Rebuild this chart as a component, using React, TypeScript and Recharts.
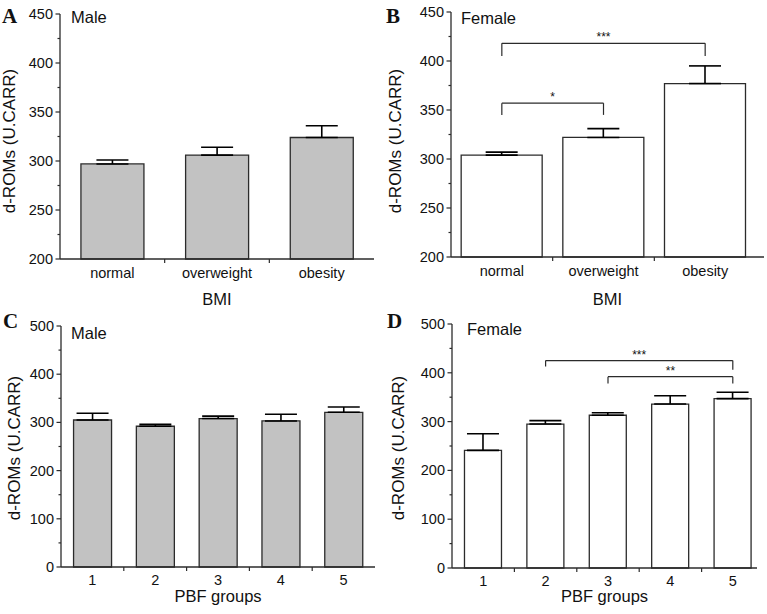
import React from "react";
import { Bar, BarChart, ErrorBar, ReferenceLine, XAxis, YAxis } from "recharts";

// BMI panels (A, B)
const bmiCats = ["normal", "overweight", "obesity"];
const maleBmiMean = [297, 306, 324];
const maleBmiErr = [4, 8, 12];
const femaleBmiMean = [304, 322, 377];
const femaleBmiErr = [3, 9, 18];
const bmiTicks = [200, 225, 250, 275, 300, 325, 350, 375, 400, 425, 450];

// PBF panels (C, D)
const pbfCats = ["1", "2", "3", "4", "5"];
const malePbfMean = [305, 292, 308, 303, 321];
const malePbfErr = [14, 4, 5, 14, 11];
const femalePbfMean = [241, 295, 313, 336, 347];
const femalePbfErr = [34, 7, 5, 17, 13];
const pbfTicks = [0, 50, 100, 150, 200, 250, 300, 350, 400, 450, 500];

// significance brackets: [from, to, bar y, left end y, right end y, stars]
const femaleBmiSig: [string, string, number, number, number, string][] = [
  ["normal", "obesity", 418, 405, 405, "***"],
  ["normal", "overweight", 357, 345, 345, "*"],
];
const femalePbfSig: [string, string, number, number, number, string][] = [
  ["2", "5", 425, 413, 406, "***"],
  ["3", "5", 392, 378, 378, "**"],
];

const SANS = "'Liberation Sans', Arial, Helvetica, sans-serif";
const SERIF = "'Liberation Serif', 'Times New Roman', serif";
const AXIS = "#2b2b2b";
const TEXT = "#111";

interface PanelProps {
  left: number;
  top: number;
  width: number;
  height: number;
  margin: { top: number; right: number; bottom: number; left: number };
  yWidth: number;
  xHeight: number;
  xPad: { left: number; right: number };
  cats: string[];
  mean: number[];
  err: number[];
  fill: string;
  gap: string;
  domain: [number, number];
  ticks: number[];
  major: number;
  catDy: number;
  xLabel: string;
  xLabelOffset: number;
  sig?: [string, string, number, number, number, string][];
}

function Panel(p: PanelProps) {
  const data = p.cats.map((name, i) => ({
    name,
    value: p.mean[i],
    err: [0, p.err[i]],
  }));
  const plotW = p.width - p.margin.left - p.margin.right - p.yWidth;
  const band = (plotW - p.xPad.left - p.xPad.right) / p.cats.length;

  const yTick = (props: any) => {
    const { x, y, payload } = props;
    const isMajor = payload.value % p.major === 0;
    return (
      <g>
        <line x1={x} x2={x - (isMajor ? 4.5 : 2.5)} y1={y} y2={y} stroke={AXIS} strokeWidth={1.2} />
        {isMajor ? (
          <text x={x - 7} y={y} textAnchor="end" dominantBaseline="central" fontSize={14.5} fill={TEXT} fontFamily={SANS}>
            {payload.value}
          </text>
        ) : null}
      </g>
    );
  };

  const xTick = (props: any) => {
    const { x, y, payload, index } = props;
    return (
      <g>
        {index < p.cats.length - 1 ? (
          <line x1={x + band / 2} x2={x + band / 2} y1={y} y2={y + 4} stroke={AXIS} strokeWidth={1.2} />
        ) : null}
        <text x={x} y={y + p.catDy} textAnchor="middle" dominantBaseline="central" fontSize={14.5} fill={TEXT} fontFamily={SANS}>
          {payload.value}
        </text>
      </g>
    );
  };

  return (
    <div style={{ position: "absolute", left: p.left, top: p.top }}>
      <BarChart
        width={p.width}
        height={p.height}
        data={data}
        margin={p.margin}
        barCategoryGap={p.gap}
      >
        <XAxis
          dataKey="name"
          height={p.xHeight}
          padding={p.xPad}
          interval={0}
          tickLine={false}
          tickSize={0}
          tickMargin={0}
          tick={xTick}
          axisLine={{ stroke: AXIS, strokeWidth: 1.3 }}
          label={{
            value: p.xLabel,
            position: "insideTop",
            offset: p.xLabelOffset,
            fontSize: 16.5,
            fill: TEXT,
            fontFamily: SANS,
          }}
        />
        <YAxis
          type="number"
          domain={p.domain}
          ticks={p.ticks}
          interval={0}
          width={p.yWidth}
          tickLine={false}
          tickSize={0}
          tickMargin={0}
          tick={yTick}
          axisLine={{ stroke: AXIS, strokeWidth: 1.3 }}
        />
        <Bar
          dataKey="value"
          fill={p.fill}
          stroke={AXIS}
          strokeWidth={1.3}
          isAnimationActive={false}
        >
          <ErrorBar dataKey="err" width={16} stroke="#000" strokeWidth={1.6} isAnimationActive={false} />
        </Bar>
        {(p.sig ?? []).flatMap(([from, to, y, ly, ry, stars]) => [
          <ReferenceLine
            key={`${from}-${to}-h`}
            segment={[{ x: from, y }, { x: to, y }]}
            stroke={AXIS}
            strokeWidth={1.2}
            ifOverflow="visible"
            label={{ value: stars, position: "top", offset: 2, fontSize: 12, fill: TEXT, fontFamily: SANS }}
          />,
          <ReferenceLine
            key={`${from}-${to}-l`}
            segment={[{ x: from, y: ly }, { x: from, y }]}
            stroke={AXIS}
            strokeWidth={1.2}
            ifOverflow="visible"
          />,
          <ReferenceLine
            key={`${from}-${to}-r`}
            segment={[{ x: to, y: ry }, { x: to, y }]}
            stroke={AXIS}
            strokeWidth={1.2}
            ifOverflow="visible"
          />,
        ])}
      </BarChart>
    </div>
  );
}

const Y_LABEL = "d-ROMs (U.CARR)";

export default function App() {
  return (
    <div
      style={{
        position: "absolute",
        left: 0,
        top: 0,
        width: 767,
        height: 614,
        background: "#fff",
        overflow: "hidden",
      }}
    >
      <Panel
        left={0}
        top={0}
        width={384}
        height={310}
        margin={{ top: 14, right: 10, bottom: 0, left: 0 }}
        yWidth={60}
        xHeight={51}
        xPad={{ left: 0, right: 0 }}
        cats={bmiCats}
        mean={maleBmiMean}
        err={maleBmiErr}
        fill="#c2c2c2"
        gap="20%"
        domain={[200, 450]}
        ticks={bmiTicks}
        major={50}
        catDy={14}
        xLabel="BMI"
        xLabelOffset={34}
      />
      <Panel
        left={384}
        top={0}
        width={383}
        height={310}
        margin={{ top: 12, right: 3, bottom: 0, left: 0 }}
        yWidth={67}
        xHeight={53}
        xPad={{ left: 0, right: 8 }}
        cats={bmiCats}
        mean={femaleBmiMean}
        err={femaleBmiErr}
        fill="#fff"
        gap="10%"
        domain={[200, 450]}
        ticks={bmiTicks}
        major={50}
        catDy={14}
        xLabel="BMI"
        xLabelOffset={36}
        sig={femaleBmiSig}
      />
      <Panel
        left={0}
        top={310}
        width={384}
        height={304}
        margin={{ top: 16, right: 9, bottom: 0, left: 0 }}
        yWidth={61}
        xHeight={47}
        xPad={{ left: 0, right: 0 }}
        cats={pbfCats}
        mean={malePbfMean}
        err={malePbfErr}
        fill="#c2c2c2"
        gap="20%"
        domain={[0, 500]}
        ticks={pbfTicks}
        major={100}
        catDy={12.5}
        xLabel="PBF groups"
        xLabelOffset={23.5}
      />
      <Panel
        left={384}
        top={310}
        width={383}
        height={304}
        margin={{ top: 14, right: 10, bottom: 0, left: 0 }}
        yWidth={68}
        xHeight={46}
        xPad={{ left: 0, right: -7 }}
        cats={pbfCats}
        mean={femalePbfMean}
        err={femalePbfErr}
        fill="#fff"
        gap="20%"
        domain={[0, 500]}
        ticks={pbfTicks}
        major={100}
        catDy={12.5}
        xLabel="PBF groups"
        xLabelOffset={22.5}
        sig={femalePbfSig}
      />
      <svg
        width={767}
        height={614}
        style={{ position: "absolute", left: 0, top: 0, pointerEvents: "none" }}
      >
        <g fontFamily={SERIF} fontWeight="bold" fontSize={21} fill={TEXT}>
          <text x={2} y={23}>A</text>
          <text x={386} y={23}>B</text>
          <text x={3} y={328}>C</text>
          <text x={387} y={328}>D</text>
        </g>
        <g fontFamily={SANS} fontSize={16.5} fill={TEXT}>
          <text x={71} y={23}>Male</text>
          <text x={461} y={24}>Female</text>
          <text x={71} y={339}>Male</text>
          <text x={467} y={335}>Female</text>
        </g>
        <g fontFamily={SANS} fontSize={17} fill={TEXT} textAnchor="middle" dominantBaseline="central">
          <text transform="translate(9 141) rotate(-90)">{Y_LABEL}</text>
          <text transform="translate(395 141) rotate(-90)">{Y_LABEL}</text>
          <text transform="translate(14 448) rotate(-90)">{Y_LABEL}</text>
          <text transform="translate(398 448) rotate(-90)">{Y_LABEL}</text>
        </g>
      </svg>
    </div>
  );
}
